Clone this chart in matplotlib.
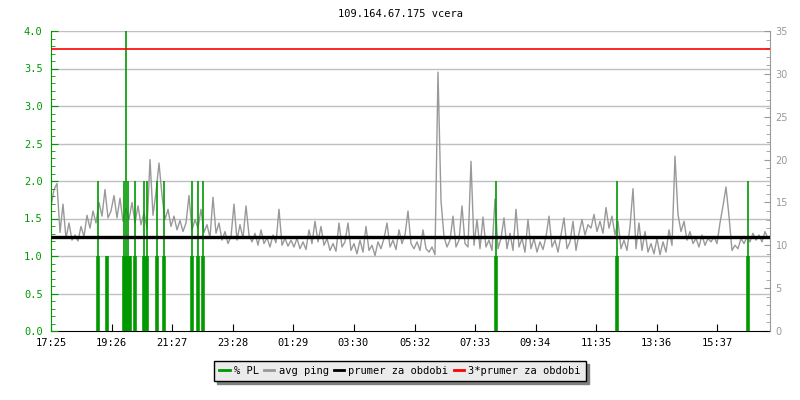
import matplotlib
matplotlib.use('Agg')
import matplotlib.pyplot as plt
import matplotlib.transforms as mtransforms
from matplotlib.lines import Line2D
from matplotlib.ticker import MultipleLocator, FormatStrFormatter
import numpy as np

## ping history for one day, one value every 6 minutes from 17:25 (ms)
step_min = 6
avg_ping = [
    14.5, 16.5, 17.2, 11.5, 14.8, 10.8, 12.6, 10.6, 11.2, 10.5, 12.2, 11.0, 13.5, 12.0, 14.0, 12.6, 15.0, 13.4, 16.5, 13.2,
    14.0, 15.8, 13.2, 15.5, 12.8, 14.3, 13.0, 15.0, 12.6, 14.6, 12.4, 13.8, 12.0, 20.0, 13.5, 16.2, 19.6, 15.8, 13.0, 14.2,
    12.2, 13.4, 11.8, 12.9, 11.6, 12.6, 15.8, 11.8, 13.0, 12.0, 14.2, 11.5, 12.4, 10.9, 15.6, 11.4, 12.6, 10.6, 11.6, 10.2,
    11.0, 14.8, 10.6, 12.4, 10.8, 14.6, 11.2, 10.4, 11.4, 10.0, 11.8, 10.2, 10.9, 9.8, 11.2, 10.3, 14.2, 10.0, 10.8, 9.9,
    10.6, 9.8, 10.8, 9.6, 10.4, 9.5, 11.8, 10.2, 12.8, 10.4, 12.2, 10.0, 10.8, 9.4, 10.2, 9.3, 12.6, 9.8, 10.4, 12.6,
    9.4, 10.2, 9.0, 10.6, 9.2, 12.2, 9.4, 10.0, 8.8, 10.4, 9.6, 10.8, 12.6, 9.8, 10.6, 9.5, 11.8, 10.2, 11.2, 14.0,
    10.2, 9.6, 10.4, 9.4, 11.8, 9.6, 9.2, 9.8, 8.9, 30.2, 15.2, 11.0, 9.8, 10.6, 13.4, 9.8, 10.6, 14.6, 10.2, 9.8,
    19.8, 10.0, 13.0, 9.6, 13.3, 9.8, 10.6, 9.4, 15.4, 9.6, 10.8, 13.2, 9.6, 11.4, 9.4, 14.2, 9.8, 10.8, 9.2, 13.0,
    9.6, 10.8, 9.2, 10.4, 9.5, 11.0, 13.4, 9.8, 10.6, 9.2, 11.2, 13.2, 9.6, 10.4, 12.8, 9.4, 11.4, 13.0, 11.2, 12.4,
    12.0, 13.6, 11.6, 12.8, 11.4, 14.4, 12.0, 13.4, 11.2, 12.8, 9.6, 10.6, 9.4, 12.2, 16.6, 9.6, 12.6, 9.4, 11.6, 9.2,
    10.2, 9.0, 10.8, 8.9, 10.4, 9.2, 11.8, 10.0, 20.4, 13.6, 11.6, 12.8, 10.6, 11.6, 10.2, 10.8, 9.8, 11.2, 10.0, 10.8,
    10.4, 11.0, 10.2, 12.6, 14.6, 16.8, 13.4, 9.4, 10.0, 9.6, 10.8, 10.2, 11.0, 10.4, 11.4, 10.6, 11.2, 10.4, 11.6, 10.8,
]
avg_for_period = 10.95   # prumer za obdobi, ms

## packet loss spikes: minutes after 17:25 and peak % PL
pl_minutes = [94, 112, 146, 149, 153, 157, 168, 185, 191, 211, 225, 282, 294, 304, 890, 1132, 1394]
pl_peak = [2, 1, 2, 4, 2, 1, 2, 2, 2, 2, 2, 2, 2, 2, 2, 2, 2]

tick_labels = ['17:25', '19:26', '21:27', '23:28', '01:29', '03:30', '05:32', '07:33', '09:34', '11:35', '13:36', '15:37']
title = '109.164.67.175 vcera'

green = '#009900'
gray = '#999999'
grid_c = '#c0c0c0'
mono = 'DejaVu Sans Mono'

t = np.arange(len(avg_ping)) * step_min

def minutes_from_start(label):
    h, m = label.split(':')
    return (int(h) * 60 + int(m) - (17 * 60 + 25)) % 1440

tick_pos = [minutes_from_start(l) for l in tick_labels]

fig = plt.figure(figsize=(8, 4), dpi=100)
ax = fig.add_axes([51 / 800, 69 / 400, 719 / 800, 300 / 400])
ax_pl = ax.twinx()

ax.set_xlim(0, 1438)
ax.set_ylim(0, 35)
ax_pl.set_ylim(0, 4)

# grid following left axis
grid_trans = mtransforms.blended_transform_factory(ax.transAxes, ax_pl.transData)
for g in np.arange(0.5, 4.01, 0.5):
    ax.plot([0, 1], [g, g], color=grid_c, lw=1, transform=grid_trans, zorder=0)

ax.plot(t, avg_ping, color=gray, lw=1, zorder=2)

ax_pl.vlines(pl_minutes, 0, pl_peak, color=green, lw=1.2, zorder=2)
ax_pl.vlines(pl_minutes, 0, np.minimum(pl_peak, 1), color=green, lw=2.6, zorder=2)

# mean and 3*mean drawn over the packet loss
ms_trans = mtransforms.blended_transform_factory(ax_pl.transAxes, ax.transData)
ax_pl.plot([0, 1], [avg_for_period, avg_for_period], color='black', lw=2.4, transform=ms_trans, zorder=3)
ax_pl.plot([0, 1], [3 * avg_for_period] * 2, color='red', lw=1.2, transform=ms_trans, zorder=3)

# axes look
for a in (ax, ax_pl):
    a.spines['top'].set_visible(False)
    a.spines['left'].set_visible(False)
    a.spines['right'].set_visible(False)
ax_pl.spines['left'].set_visible(True)
ax_pl.spines['left'].set_color(green)
ax_pl.spines['right'].set_visible(True)
ax_pl.spines['right'].set_color(gray)
ax.spines['bottom'].set_color('black')
ax_pl.spines['bottom'].set_visible(False)

ax.yaxis.tick_right()
ax.yaxis.set_major_locator(MultipleLocator(5))
ax.yaxis.set_minor_locator(MultipleLocator(1))
ax.tick_params(axis='y', which='both', direction='in', colors=gray, labelsize=7, pad=4)
ax.tick_params(axis='y', which='major', length=4)
ax.tick_params(axis='y', which='minor', length=3)

ax_pl.yaxis.tick_left()
ax_pl.yaxis.set_major_locator(MultipleLocator(0.5))
ax_pl.yaxis.set_minor_locator(MultipleLocator(0.1))
ax_pl.yaxis.set_major_formatter(FormatStrFormatter('%.1f'))
ax_pl.tick_params(axis='y', which='both', direction='in', colors=green, labelsize=7.5, pad=6)
ax_pl.tick_params(axis='y', which='major', length=5)
ax_pl.tick_params(axis='y', which='minor', length=3)
for lbl in ax_pl.get_yticklabels():
    lbl.set_family(mono)

ax.set_xticks(tick_pos)
ax.set_xticklabels(tick_labels, family=mono, fontsize=7.5)
ax.tick_params(axis='x', direction='in', length=5, colors='black', pad=5)

fig.text(0.5, 1 - 14 / 400, title, ha='center', va='center', family=mono, fontsize=7.5)

handles = [Line2D([], [], color=green, lw=2),
           Line2D([], [], color=gray, lw=2),
           Line2D([], [], color='black', lw=2),
           Line2D([], [], color='red', lw=2)]
labels = ['% PL', 'avg ping', 'prumer za obdobi', '3*prumer za obdobi']
leg = fig.legend(handles, labels, loc='center', bbox_to_anchor=(0.5, 1 - 371 / 400), ncol=4,
                 frameon=True, fancybox=False, framealpha=1, facecolor='#ebebeb', edgecolor='black',
                 prop={'family': mono, 'size': 7.5}, handlelength=1.0, handletextpad=0.4,
                 columnspacing=0.5, borderpad=0.5,
                 shadow={'color': '#808080', 'alpha': 1})
leg.get_frame().set_linewidth(1)

fig.savefig('out.png', dpi=100)
